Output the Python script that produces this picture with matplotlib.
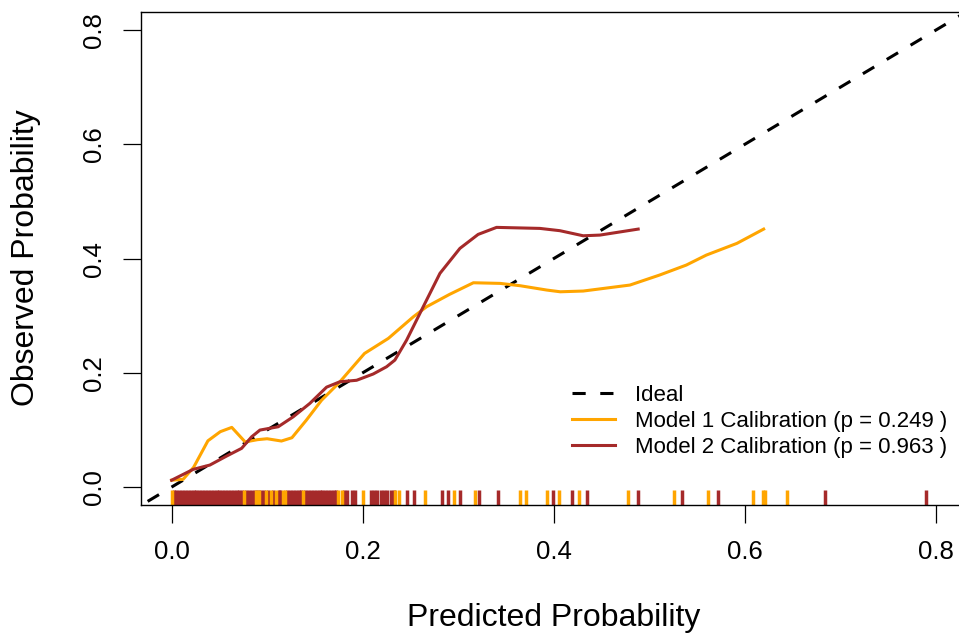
"""Calibration curves for two models with rug of predicted probabilities."""

import matplotlib

matplotlib.use("Agg")
import matplotlib.pyplot as plt
import matplotlib.transforms as mtransforms

# smoothed calibration curves (predicted, observed)
model1_x = [0.0, 0.012, 0.023, 0.038, 0.051, 0.063, 0.077, 0.090, 0.100, 0.115,
            0.126, 0.141, 0.157, 0.175, 0.202, 0.227, 0.253, 0.267, 0.291, 0.316,
            0.344, 0.365, 0.393, 0.407, 0.431, 0.480, 0.511, 0.539, 0.560, 0.592,
            0.620]
model1_y = [0.012, 0.0135, 0.0345, 0.081, 0.097, 0.1045, 0.079, 0.083, 0.0846, 0.0806,
            0.0864, 0.117, 0.152, 0.182, 0.234, 0.2604, 0.298, 0.3158, 0.3374, 0.3578,
            0.3567, 0.3526, 0.345, 0.342, 0.3433, 0.3538, 0.3713, 0.3888, 0.4063, 0.4268,
            0.4518]

model2_x = [0.0, 0.0226, 0.040, 0.0576, 0.0733, 0.0838, 0.0925, 0.1116, 0.1273, 0.1448,
            0.1623, 0.1762, 0.1937, 0.2111, 0.2251, 0.2338, 0.2461, 0.2635, 0.281, 0.3019,
            0.321, 0.3403, 0.3857, 0.4066, 0.431, 0.4485, 0.4886]
model2_y = [0.012, 0.031, 0.0385, 0.0543, 0.0678, 0.088, 0.0998, 0.1056, 0.123, 0.1466,
            0.175, 0.1844, 0.187, 0.198, 0.2107, 0.2224, 0.2574, 0.3158, 0.3743, 0.418,
            0.4425, 0.4548, 0.453, 0.449, 0.4401, 0.4413, 0.4518]

# predicted probabilities shown as rug marks
model1_pred = [0.0, 0.0757, 0.088, 0.092, 0.0992, 0.104, 0.1096, 0.117, 0.119, 0.138,
               0.1745, 0.178, 0.2006, 0.2338, 0.2383, 0.2654, 0.296, 0.3176, 0.3644,
               0.3709, 0.3932, 0.4054, 0.4267, 0.4781, 0.526, 0.5616, 0.6091, 0.6188,
               0.6218, 0.6441]
model2_pred = [0.002, 0.005, 0.008, 0.011, 0.014, 0.017, 0.020, 0.023, 0.026, 0.029,
               0.032, 0.035, 0.038, 0.041, 0.044, 0.047, 0.050, 0.053, 0.056, 0.059,
               0.062, 0.065, 0.068, 0.071, 0.074, 0.078, 0.081, 0.084, 0.087, 0.090,
               0.094, 0.097, 0.101, 0.106, 0.112, 0.114, 0.121, 0.124, 0.127, 0.130,
               0.133, 0.136, 0.140, 0.143, 0.146, 0.149, 0.152, 0.155, 0.158, 0.161,
               0.164, 0.167, 0.170, 0.172, 0.181, 0.184, 0.189, 0.192, 0.209, 0.212,
               0.215, 0.219, 0.222, 0.226, 0.230, 0.233, 0.247, 0.254, 0.2827, 0.2895,
               0.3021, 0.3219, 0.3421, 0.399, 0.4195, 0.435, 0.4889, 0.5347, 0.5725,
               0.6844, 0.7902]

ticks = [0.0, 0.2, 0.4, 0.6, 0.8]
labels = ["Ideal", "Model 1 Calibration (p = 0.249 )", "Model 2 Calibration (p = 0.963 )"]

ORANGE = "#FFA500"
BROWN = "#A52A2A"


def main() -> None:
    plt.rcParams["font.family"] = ["Liberation Sans", "DejaVu Sans"]
    plt.rcParams["lines.scale_dashes"] = False

    fig = plt.figure(figsize=(9.59, 6.39), dpi=100)
    ax = fig.add_axes([0.1471, 0.2092, 0.8603, 0.772])

    ax.plot([-0.1, 1.0], [-0.1, 1.0], color="black", lw=2.2, ls=(0, (9.5, 10.5)),
            label=labels[0])
    ax.plot(model1_x, model1_y, color=ORANGE, lw=2.2, label=labels[1])
    ax.plot(model2_x, model2_y, color=BROWN, lw=2.2, label=labels[2])

    # rug along the bottom, 3% of the plot height
    trans = mtransforms.blended_transform_factory(ax.transData, ax.transAxes)
    ax.vlines(model2_pred, 0, 0.032, transform=trans, color=BROWN, lw=2.5)
    ax.vlines(model1_pred, 0, 0.032, transform=trans, color=ORANGE, lw=2.5)

    ax.set_xlim(-0.032, 0.832)
    ax.set_ylim(-0.032, 0.832)
    ax.set_xticks(ticks)
    ax.set_yticks(ticks)
    ax.set_xticklabels([f"{t:.1f}" for t in ticks])
    ax.set_yticklabels([f"{t:.1f}" for t in ticks], rotation=90, va="center")
    ax.tick_params(direction="out", length=12.7, width=0.9, labelsize=18.5, pad=12.5)
    for spine in ax.spines.values():
        spine.set_linewidth(1.0)

    ax.set_xlabel("Predicted Probability", fontsize=23)
    ax.set_ylabel("Observed Probability", fontsize=23)
    ax.xaxis.set_label_coords(0.5, -0.2285)
    ax.xaxis.label.set_va("center")
    ax.yaxis.set_label_coords(-0.1395, 0.503)
    ax.yaxis.label.set_va("center")

    ax.legend(loc="upper left", bbox_to_anchor=(0.522, 0.244), frameon=False,
              fontsize=16, handlelength=1.94, handletextpad=0.9, labelspacing=0.22,
              borderpad=0, borderaxespad=0)

    fig.savefig("out.png", dpi=100)
    plt.close(fig)


if __name__ == "__main__":
    main()
